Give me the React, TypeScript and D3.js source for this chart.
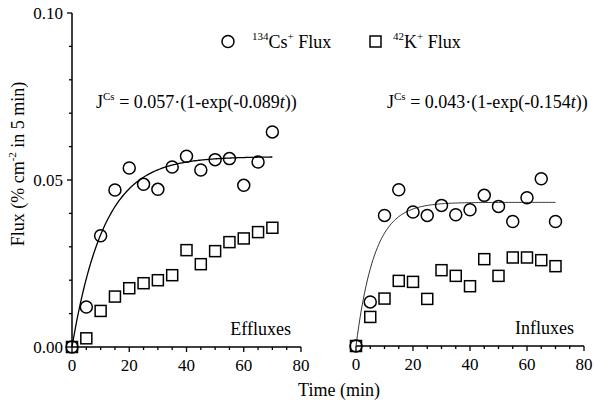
import React, { useEffect, useRef } from 'react';
import * as d3 from 'd3';

// time points (min)
const times = [0, 5, 10, 15, 20, 25, 30, 35, 40, 45, 50, 55, 60, 65, 70];

// effluxes (left panel)
const effluxCs = [0, 0.012, 0.0333, 0.047, 0.0536, 0.0487, 0.0472, 0.0539, 0.0571, 0.053, 0.0561, 0.0564, 0.0484, 0.0554, 0.0644];
const effluxK = [0, 0.0026, 0.0108, 0.0151, 0.0176, 0.0191, 0.02, 0.0215, 0.029, 0.0248, 0.0287, 0.0314, 0.0325, 0.0344, 0.0357];

// influxes (right panel)
const influxCs = [0, 0.0132, 0.0391, 0.0468, 0.0401, 0.0391, 0.0421, 0.0393, 0.0408, 0.0451, 0.0418, 0.0373, 0.0444, 0.0501, 0.0373];
const influxK = [0, 0.0087, 0.0142, 0.0195, 0.0192, 0.0141, 0.0227, 0.021, 0.0179, 0.026, 0.021, 0.0265, 0.0265, 0.0257, 0.0239];

// fitted curves J = a*(1-exp(-k t))
const fitEfflux = { a: 0.057, k: 0.089 };
const fitInflux = { a: 0.043, k: 0.154 };

const yTicksMajor = [0, 0.05, 0.1];
const xTicksMajor = [0, 20, 40, 60, 80];

const FONT = '"Liberation Serif", "Times New Roman", serif';

export default function App() {
    const svgRef = useRef<SVGSVGElement>(null);

    useEffect(() => {
        const svg = d3.select(svgRef.current);
        svg.selectAll('*').remove();
        svg.style('font-family', FONT);

        const panels = [
            { x0: 72, x1: 301, y0: 347, y1: 13, cs: effluxCs, k: effluxK, fit: fitEfflux, yAxis: true, label: 'Effluxes', lineW: 1.3, eqX: 96, eqA: '0.057', eqK: '-0.089' },
            { x0: 356, x1: 584, y0: 346, y1: 12, cs: influxCs, k: influxK, fit: fitInflux, yAxis: false, label: 'Influxes', lineW: 0.8, eqX: 387, eqA: '0.043', eqK: '-0.154' },
        ];

        panels.forEach(p => {
            const x = d3.scaleLinear().domain([0, 80]).range([p.x0, p.x1]);
            const y = d3.scaleLinear().domain([0, 0.1]).range([p.y0, p.y1]);
            const g = svg.append('g');

            // x axis
            g.append('line')
                .attr('x1', x(0)).attr('x2', x(80))
                .attr('y1', y(0)).attr('y2', y(0))
                .attr('stroke', '#000').attr('stroke-width', 1.5);
            g.selectAll('.xminor')
                .data(d3.range(0, 81, 5))
                .enter().append('line')
                .attr('x1', d => x(d)).attr('x2', d => x(d))
                .attr('y1', y(0)).attr('y2', d => y(0) + (d % 20 === 0 ? 5 : 3))
                .attr('stroke', '#000').attr('stroke-width', 1.3);
            g.selectAll('.xlab')
                .data(xTicksMajor)
                .enter().append('text')
                .attr('x', d => x(d))
                .attr('y', y(0) + 24)
                .attr('text-anchor', 'middle')
                .attr('font-size', 17)
                .text(d => d);

            if (p.yAxis) {
                g.append('line')
                    .attr('x1', x(0)).attr('x2', x(0))
                    .attr('y1', y(0)).attr('y2', y(0.1))
                    .attr('stroke', '#000').attr('stroke-width', 1.5);
                g.selectAll('.yminor')
                    .data(d3.range(0, 11))
                    .enter().append('line')
                    .attr('x1', x(0)).attr('x2', d => x(0) - (d % 5 === 0 ? 5 : 3))
                    .attr('y1', d => y(d / 100)).attr('y2', d => y(d / 100))
                    .attr('stroke', '#000').attr('stroke-width', 1.3);
                g.selectAll('.ylab')
                    .data(yTicksMajor)
                    .enter().append('text')
                    .attr('x', x(0) - 9)
                    .attr('y', d => y(d) + 6)
                    .attr('text-anchor', 'end')
                    .attr('font-size', 17)
                    .text(d => d.toFixed(2));
            }

            // fitted curve
            const curve = d3.range(0, 70.01, 0.5).map(t => [t, p.fit.a * (1 - Math.exp(-p.fit.k * t))]);
            g.append('path')
                .attr('d', d3.line().x(d => x(d[0])).y(d => y(d[1]))(curve as [number, number][]))
                .attr('fill', 'none')
                .attr('stroke', '#000')
                .attr('stroke-width', p.lineW);

            // K squares
            g.selectAll('.sq')
                .data(p.k)
                .enter().append('rect')
                .attr('x', (d, i) => x(times[i]) - 5.5)
                .attr('y', d => y(d) - 5.5)
                .attr('width', 11).attr('height', 11)
                .attr('fill', 'none').attr('stroke', '#000').attr('stroke-width', 1.5);

            // Cs circles
            g.selectAll('.ci')
                .data(p.cs)
                .enter().append('circle')
                .attr('cx', (d, i) => x(times[i]))
                .attr('cy', d => y(d))
                .attr('r', 6)
                .attr('fill', 'none').attr('stroke', '#000').attr('stroke-width', 1.5);

            g.append('text')
                .attr('x', x(80) - 10)
                .attr('y', y(0) - 12)
                .attr('text-anchor', 'end')
                .attr('font-size', 18)
                .text(p.label);

            // equation
            const eq = g.append('text')
                .attr('x', p.eqX)
                .attr('y', 108)
                .attr('font-size', 18);
            eq.append('tspan').text('J');
            eq.append('tspan').attr('font-size', 11).attr('dy', -8).text('Cs');
            eq.append('tspan').attr('dy', 8).text(` = ${p.eqA}·(1-exp(${p.eqK}`);
            eq.append('tspan').attr('font-style', 'italic').text('t');
            eq.append('tspan').text('))');
        });

        // legend
        const leg = svg.append('g');
        leg.append('circle').attr('cx', 228).attr('cy', 41.5).attr('r', 6)
            .attr('fill', 'none').attr('stroke', '#000').attr('stroke-width', 1.5);
        const t1 = leg.append('text').attr('x', 252).attr('y', 48).attr('font-size', 18);
        t1.append('tspan').attr('font-size', 11).attr('dy', -8).text('134');
        t1.append('tspan').attr('dy', 8).text('Cs');
        t1.append('tspan').attr('font-size', 11).attr('dy', -8).text('+');
        t1.append('tspan').attr('dy', 8).text(' Flux');

        leg.append('rect').attr('x', 370).attr('y', 36).attr('width', 11).attr('height', 11)
            .attr('fill', 'none').attr('stroke', '#000').attr('stroke-width', 1.5);
        const t2 = leg.append('text').attr('x', 393).attr('y', 48).attr('font-size', 18);
        t2.append('tspan').attr('font-size', 11).attr('dy', -8).text('42');
        t2.append('tspan').attr('dy', 8).text('K');
        t2.append('tspan').attr('font-size', 11).attr('dy', -8).text('+');
        t2.append('tspan').attr('dy', 8).text(' Flux');

        // axis titles
        svg.append('text')
            .attr('x', 339).attr('y', 396)
            .attr('text-anchor', 'middle')
            .attr('font-size', 18)
            .text('Time (min)');

        const yl = svg.append('text')
            .attr('transform', 'translate(24,164) rotate(-90)')
            .attr('text-anchor', 'middle')
            .attr('font-size', 18);
        yl.append('tspan').text('Flux (% cm');
        yl.append('tspan').attr('font-size', 11).attr('dy', -8).text('-2');
        yl.append('tspan').attr('dy', 8).text(' in 5 min)');
    }, []);

    return (
        <svg ref={svgRef} width={596} height={407}
            style={{ position: 'absolute', left: 0, top: 0, background: '#fff' }} />
    );
}
